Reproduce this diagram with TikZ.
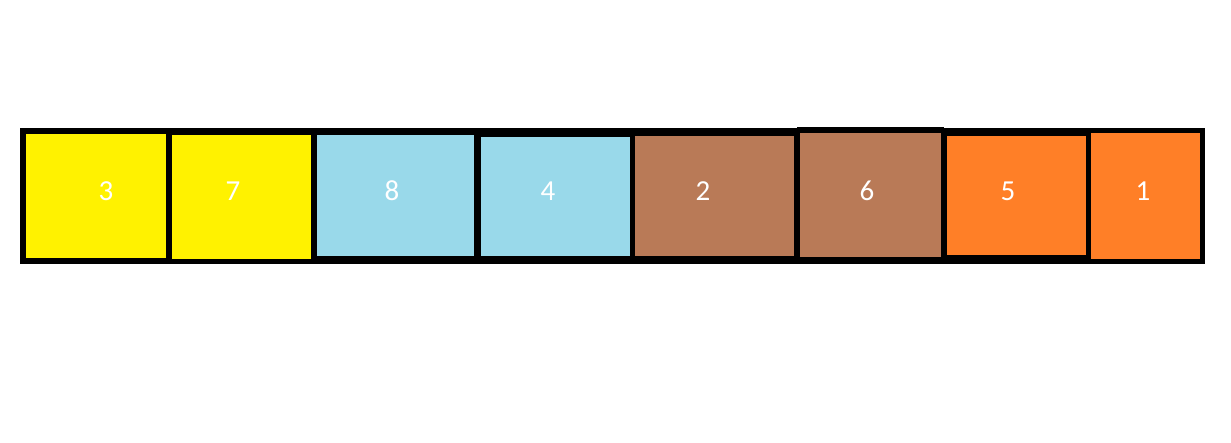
\documentclass[tikz,border=0pt]{standalone}
\usepackage{fontspec}
\setmainfont{Carlito}
\definecolor{paintyellow}{RGB}{255,242,0}
\definecolor{paintblue}{RGB}{153,217,234}
\definecolor{paintbrown}{RGB}{185,122,87}
\definecolor{paintorange}{RGB}{255,127,39}
\begin{document}
\begin{tikzpicture}[x=1pt,y=-1pt,
	cell/.style={anchor=north west,inner sep=0pt,outer sep=0pt,draw=none},
	num/.style={text=white,inner sep=0pt,font=\fontsize{29}{29}\selectfont}]
\useasboundingbox[fill=white] (0,0) rectangle (1231,442);
\fill[black] (20,128) rectangle (1205,264);
\fill[black] (797,127) rectangle (944,131);
\node[cell,fill=paintyellow,minimum width=140pt,minimum height=124pt] (c1) at (26,134) {};
\node[cell,fill=paintyellow,minimum width=139pt,minimum height=124pt] (c2) at (172,135) {};
\node[cell,fill=paintblue,minimum width=157pt,minimum height=121pt] (c3) at (317,135) {};
\node[cell,fill=paintblue,minimum width=149pt,minimum height=119pt] (c4) at (481,137) {};
\node[cell,fill=paintbrown,minimum width=159pt,minimum height=120pt] (c5) at (635,136) {};
\node[cell,fill=paintbrown,minimum width=141pt,minimum height=124pt] (c6) at (800,133) {};
\node[cell,fill=paintorange,minimum width=139pt,minimum height=119pt] (c7) at (947,136) {};
\node[cell,fill=paintorange,minimum width=109pt,minimum height=126pt] (c8) at (1091,133) {};
% numbers
\node[num] (n3) at (106,191) {3};
\node[num] (n7) at (233,191) {7};
\node[num] (n8) at (392,191) {8};
\node[num] (n4) at (548,191) {4};
\node[num] (n2) at (703,191) {2};
\node[num] (n6) at (867,191) {6};
\node[num] (n5) at (1008,191) {5};
\node[num] (n1) at (1143,191) {1};
\end{tikzpicture}
\end{document}
